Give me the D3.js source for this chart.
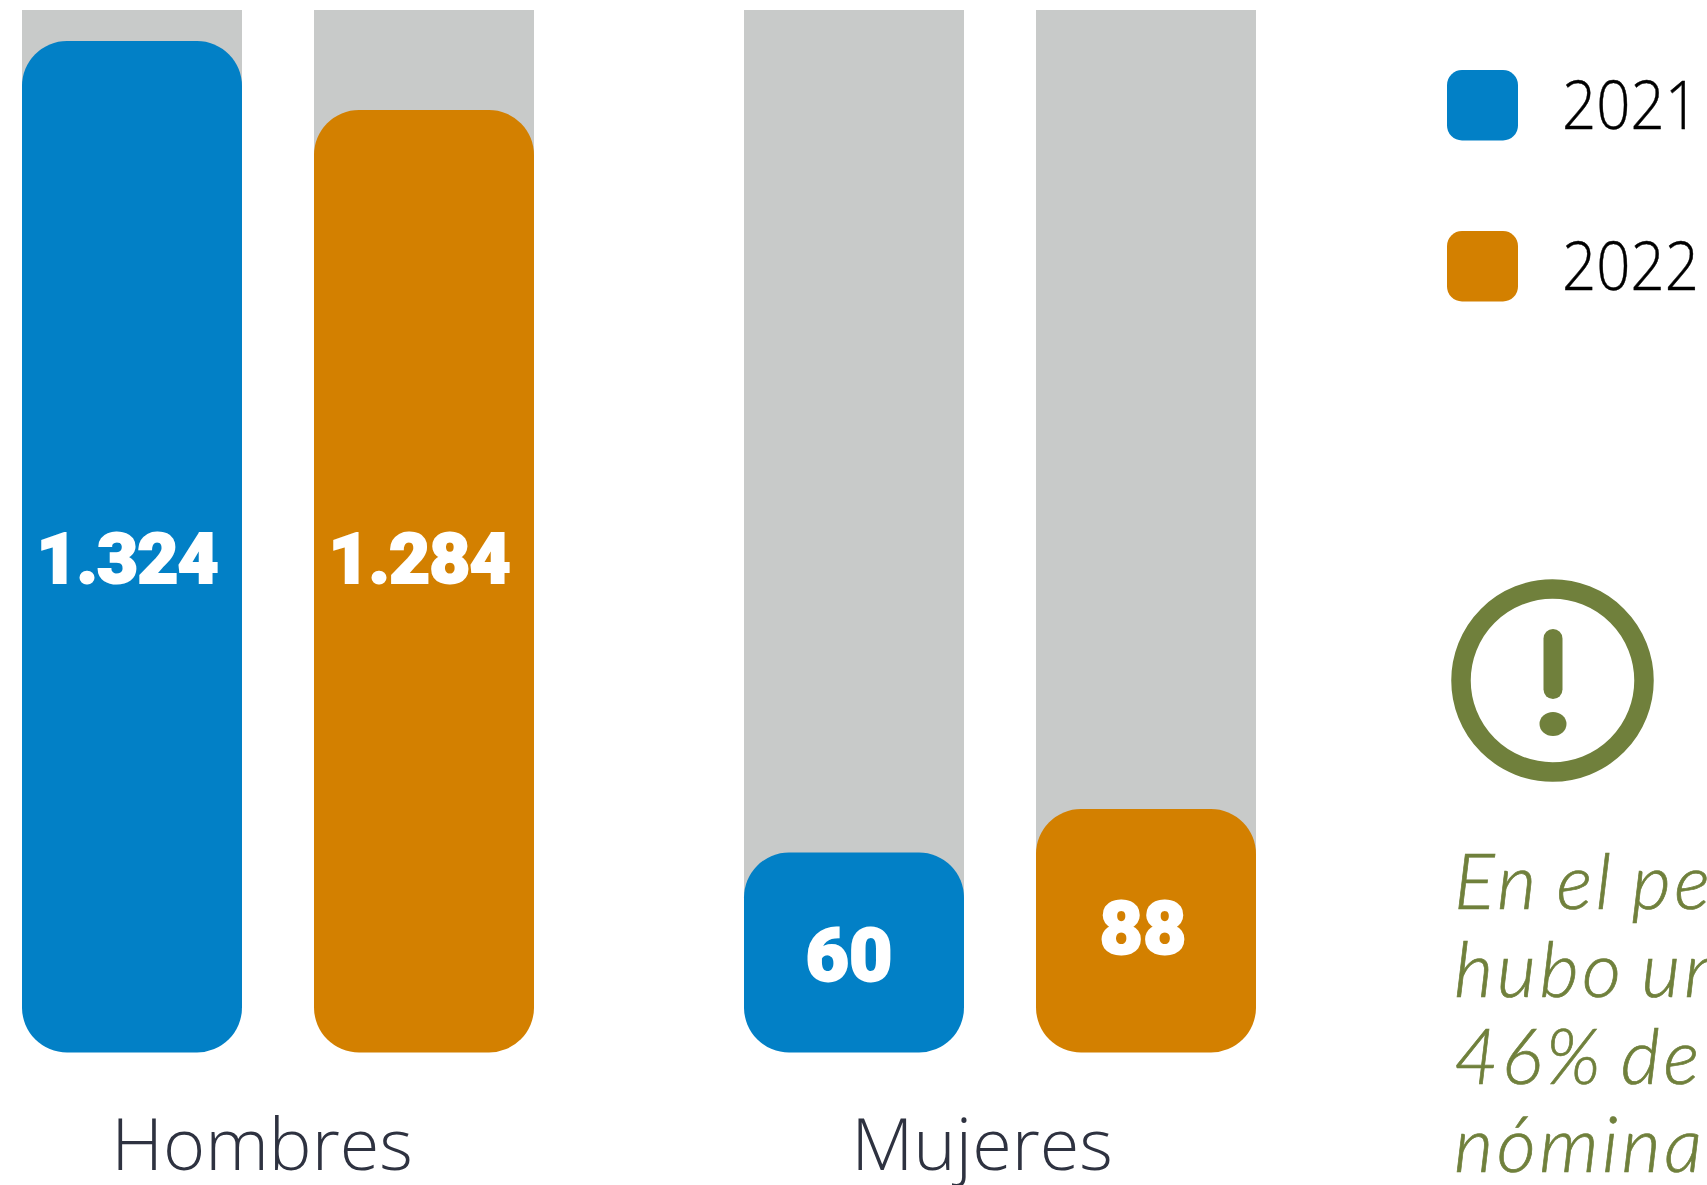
<!DOCTYPE html>
<html>
<head>
<meta charset="utf-8">
<script src="https://cdn.jsdelivr.net/npm/d3@7"></script>
<style>
html,body{margin:0;padding:0;background:#fff;overflow:hidden}
svg{display:block}
</style>
</head>
<body>
<div id="viz-container"></div>
<script>
let groups=["Hombres","Mujeres"];
let years=["2021","2022"];
let hombres=[1324,1284];
let mujeres=[60,88];
let valueLabels=[["1.324","1.284"],["60","88"]];
let noteLines=["En el pe","hubo un","46% de","nómina"];

let colors=d3.scaleOrdinal().domain(years).range(["#0280c6","#d38000"]);

let viz=d3.select("#viz-container")
  .append("svg")
    .attr("id","viz")
    .attr("width",1707)
    .attr("height",1185);

// the bars in the picture are not to scale, so the scale goes through the four drawn heights
let y=d3.scaleLinear()
  .domain([0,60,88,1284,1324])
  .range([1052.5,852.5,809,110,41]);

let groupX=d3.scalePoint().domain(groups).range([22,744]);
let barX=d3.scaleBand().domain(years).range([0,512]).paddingInner(0.2466);

let barData=[];
groups.forEach(function(g,i){
  let vals=i==0?hombres:mujeres;
  years.forEach(function(yr,j){
    barData.push({group:g,year:yr,value:vals[j],label:valueLabels[i][j]});
  });
});

function xPos(d){
  return groupX(d.group)+barX(d.year);
}

viz.selectAll(".track").data(barData).enter()
  .append("rect")
  .attr("class","track")
  .attr("x",xPos)
  .attr("y",y(1324)-31)
  .attr("width",barX.bandwidth())
  .attr("height",d=>y(d.value)-y(1324)+31+60)
  .attr("fill","#c8cac9");

viz.selectAll(".bar").data(barData).enter()
  .append("rect")
  .attr("class","bar")
  .attr("x",xPos)
  .attr("y",d=>y(d.value))
  .attr("width",barX.bandwidth())
  .attr("height",d=>y(0)-y(d.value))
  .attr("rx",45)
  .attr("ry",45)
  .attr("fill",d=>colors(d.year));

let labelBase={"1324":583,"1284":583,"60":981,"88":954};
viz.selectAll(".value").data(barData).enter()
  .append("text")
  .attr("class","value")
  .attr("x",d=>xPos(d)+barX.bandwidth()/2+(d.group=="Hombres"?-5:d.year=="2021"?-5:-3))
  .attr("y",d=>labelBase[d.value])
  .attr("text-anchor","middle")
  .attr("font-family","Roboto")
  .attr("font-weight",900)
  .attr("font-size",d=>d.group=="Hombres"?71:75)
  .attr("letter-spacing",d=>d.group=="Hombres"?-1:0)
  .attr("stroke","#fff")
  .attr("stroke-width",2)
  .attr("fill","#fff")
  .text(d=>d.label);

viz.selectAll(".group").data(groups).enter()
  .append("text")
  .attr("class","group")
  .attr("x",d=>groupX(d)+barX.range()[1]/2-(d=="Hombres"?16:18))
  .attr("y",1170)
  .attr("text-anchor","middle")
  .attr("font-family","Open Sans")
  .attr("font-weight",300)
  .attr("font-size",72)
  .attr("fill","#2e3240")
  .text(d=>d);

let legendY=d3.scalePoint().domain(years).range([70,231]);
viz.selectAll(".swatch").data(years).enter()
  .append("rect")
  .attr("class","swatch")
  .attr("x",1447)
  .attr("y",d=>legendY(d))
  .attr("width",71)
  .attr("height",70.5)
  .attr("rx",15)
  .attr("fill",d=>colors(d));
viz.selectAll(".legend").data(years).enter()
  .append("text")
  .attr("class","legend")
  .attr("x",1562)
  .attr("y",d=>legendY(d)+59)
  .attr("font-family","Open Sans")
  .attr("font-weight",300)
  .attr("font-size",67)
  .attr("textLength",137)
  .attr("lengthAdjust","spacingAndGlyphs")
  .attr("stroke","#000")
  .attr("stroke-width",0.4)
  .attr("fill","#000")
  .text(d=>d);

// alert icon
let green="#70803c";
viz.append("circle")
  .attr("cx",1552.5)
  .attr("cy",680.5)
  .attr("r",91.5)
  .attr("fill","none")
  .attr("stroke",green)
  .attr("stroke-width",19.5);
viz.append("rect")
  .attr("x",1543.5)
  .attr("y",629)
  .attr("width",19)
  .attr("height",70)
  .attr("rx",9.5)
  .attr("fill",green);
viz.append("ellipse")
  .attr("cx",1553)
  .attr("cy",724)
  .attr("rx",13.5)
  .attr("ry",12)
  .attr("fill",green);

viz.selectAll(".note").data(noteLines).enter()
  .append("text")
  .attr("class","note")
  .attr("x",1454)
  .attr("y",(d,i)=>909+i*87.7)
  .attr("font-family","Lato")
  .attr("font-weight",300)
  .attr("font-style","italic")
  .attr("font-size",76)
  .attr("letter-spacing",3.5)
  .attr("word-spacing",-6)
  .attr("stroke",green)
  .attr("stroke-width",0.7)
  .attr("fill",green)
  .text(d=>d);
</script>
</body>
</html>
